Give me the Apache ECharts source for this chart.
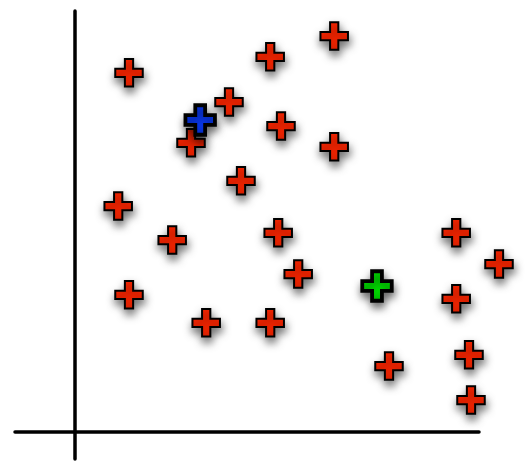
<!DOCTYPE html>
<html>
<head>
<meta charset="utf-8">
<script src="https://cdn.jsdelivr.net/npm/echarts@6/dist/echarts.min.js"></script>
<style>html,body{margin:0;padding:0;background:#fff}#c{width:531px;height:473px}</style>
</head>
<body>
<div id="c"></div>
<script>
// Data (arbitrary units; axes cross at 0,0)
const redPoints = [
  [1.35, 8.98], [4.88, 9.38], [6.48, 9.90], [3.85, 8.25], [2.90, 7.23],
  [5.15, 7.65], [6.48, 7.13], [4.15, 6.28], [1.08, 5.65], [2.43, 4.80],
  [5.08, 4.98], [5.58, 3.95], [1.35, 3.43], [3.28, 2.73], [4.88, 2.73],
  [9.53, 4.98], [10.60, 4.20], [9.53, 3.33], [9.85, 1.93], [7.85, 1.65],
  [9.90, 0.80]
];
const bluePoints = [[3.13, 7.80]];
const greenPoints = [[7.55, 3.65]];

const xRange = [-1.5, 10.1];
const yRange = [-0.675, 10.525];

const thinCross = 'path://M7,0 H13 V7 H20 V13 H13 V20 H7 V13 H0 V7 H7 Z';
const boldCross = 'path://M10,0 H20 V10 H30 V20 H20 V30 H10 V20 H0 V10 H10 Z';

const chart = echarts.init(document.getElementById('c'), null, {renderer: 'canvas'});
const axisCommon = {
  type: 'value',
  axisLine: {show: true, onZero: true, lineStyle: {color: '#000', width: 3.5, cap: 'round'}},
  axisTick: {show: false},
  axisLabel: {show: false},
  splitLine: {show: false}
};
const shadow = {shadowBlur: 8, shadowColor: 'rgba(0,0,0,0.55)', shadowOffsetX: 1, shadowOffsetY: 5};
chart.setOption({
  backgroundColor: '#fff',
  animation: false,
  grid: {left: 15, right: 52, top: 11, bottom: 14},
  xAxis: Object.assign({}, axisCommon, {min: xRange[0], max: xRange[1]}),
  yAxis: Object.assign({}, axisCommon, {min: yRange[0], max: yRange[1]}),
  series: [
    {
      type: 'scatter', data: redPoints, clip: false,
      symbol: thinCross, symbolSize: 27.5,
      itemStyle: Object.assign({color: '#ff2600', borderColor: '#000', borderWidth: 2, opacity: 1}, shadow)
    },
    {
      type: 'scatter', data: bluePoints, clip: false,
      symbol: boldCross, symbolSize: 29.5,
      itemStyle: Object.assign({color: '#0a3cff', borderColor: '#000', borderWidth: 3.8, opacity: 1}, shadow)
    },
    {
      type: 'scatter', data: greenPoints, clip: false,
      symbol: boldCross, symbolSize: 29.5,
      itemStyle: Object.assign({color: '#00f000', borderColor: '#000', borderWidth: 3.8, opacity: 1}, shadow)
    }
  ]
});
</script>
</body>
</html>
